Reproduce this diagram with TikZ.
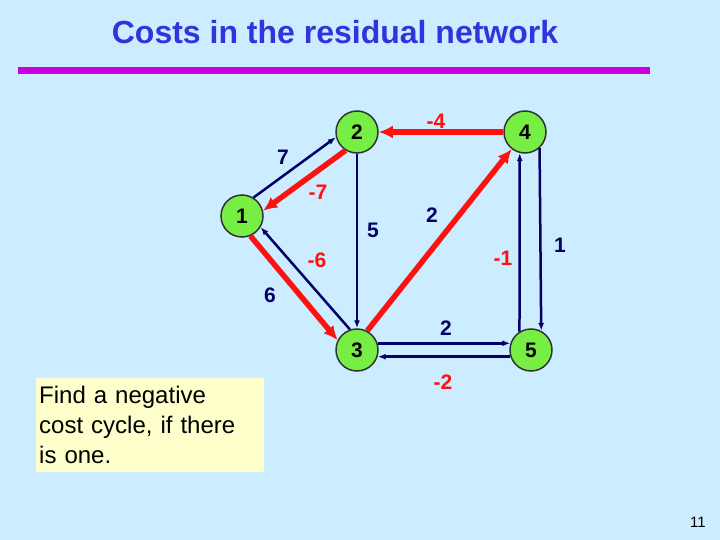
\documentclass[tikz,border=0pt]{standalone}
\usepackage{fontspec}
\setmainfont{Liberation Sans}
\usetikzlibrary{arrows.meta}
\definecolor{slidebg}{RGB}{204, 236, 255}
\definecolor{titleblue}{RGB}{51, 51, 221}
\definecolor{rulepurple}{RGB}{204, 0, 221}
\definecolor{nodegreen}{RGB}{119, 238, 68}
\definecolor{arcnavy}{RGB}{0, 0, 102}
\definecolor{arcred}{RGB}{255, 17, 17}
\definecolor{noteyellow}{RGB}{255, 255, 204}
\tikzset{
    % Node Styles
    vertex/.style={circle, draw=black!80, line width=1.5pt, fill=nodegreen,
        minimum size=42pt, inner sep=0pt, font=\bfseries\fontsize{21}{21}\selectfont},
    cost/.style={font=\bfseries\fontsize{21}{21}\selectfont, text=arcnavy},
    negcost/.style={cost, text=arcred},
    % Arrow Styles
    thin_arc/.style={-{Latex[length=8pt, width=6pt]}, line width=2.5pt, color=arcnavy},
    hot_arc/.style={-{Latex[length=14pt, width=13pt]}, line width=5.5pt, color=arcred}
}
\begin{document}
\begin{tikzpicture}[x=1pt, y=-1pt]

    % --- background and title ---
    \fill [slidebg] (0,0) rectangle (720,540);
    \useasboundingbox (0,0) rectangle (720,540);
    \node [font=\bfseries\fontsize{32}{32}\selectfont, text=titleblue] (title) at (335,32) {Costs in the residual network};
    \fill [rulepurple] (18,67) rectangle (650,74);

    % --- vertices ---
    \node [vertex] (v1) at (242,216) {1};
    \node [vertex] (v2) at (357,132) {2};
    \node [vertex] (v4) at (525,132) {4};
    \node [vertex] (v3) at (357,350) {3};
    \node [vertex] (v5) at (531,350) {5};

    % --- arcs between 1 and 2 ---
    \draw [thin_arc] (v1.58) -- (v2.194);
    \draw [hot_arc] (v2.238) -- (v1.14);
    \node [cost] (c12) at (283,157) {7};
    \node [negcost] (c21) at (318,192) {-7};

    % --- arcs between 1 and 3 ---
    \draw [hot_arc] (v1.293) -- (v3.153);
    \draw [thin_arc] (v3.109) -- (v1.329);
    \node [cost] (c13) at (270,295) {6};
    \node [negcost] (c31) at (317,260) {-6};

    % --- arcs 2-3, 3-4, 4-2 ---
    \draw [thin_arc] (v2) -- (v3);
    \node [cost] (c23) at (373,230) {5};
    \draw [hot_arc] (v3.62) -- (v4.232);
    \node [cost] (c34) at (432,215) {2};
    \draw [hot_arc] (v4) -- (v2);
    \node [negcost] (c42) at (436,121) {-4};

    % --- arcs between 4 and 5 ---
    \draw [thin_arc] (v5.122) -- (v4.256);
    \draw [thin_arc] (v4.312) -- (v5.62);
    \node [negcost] (c54) at (503,258) {-1};
    \node [cost] (c45) at (560,245) {1};

    % --- arcs between 3 and 5 ---
    \draw [thin_arc] (v3.18) -- (v5.162);
    \draw [thin_arc] (v5.198) -- (v3.342);
    \node [cost] (c35) at (446,328) {2};
    \node [negcost] (c53) at (443,382) {-2};

    % --- note and page number ---
    \node [fill=noteyellow, anchor=north west, minimum width=228pt, minimum height=94pt,
        text width=222pt, align=left, inner sep=3pt, font=\fontsize{24}{30}\selectfont] (note) at (36,378)
        {Find a negative\\cost cycle, if there\\is one.};
    \node [font=\fontsize{15}{15}\selectfont] (page) at (698,522) {11};

\end{tikzpicture}
\end{document}
